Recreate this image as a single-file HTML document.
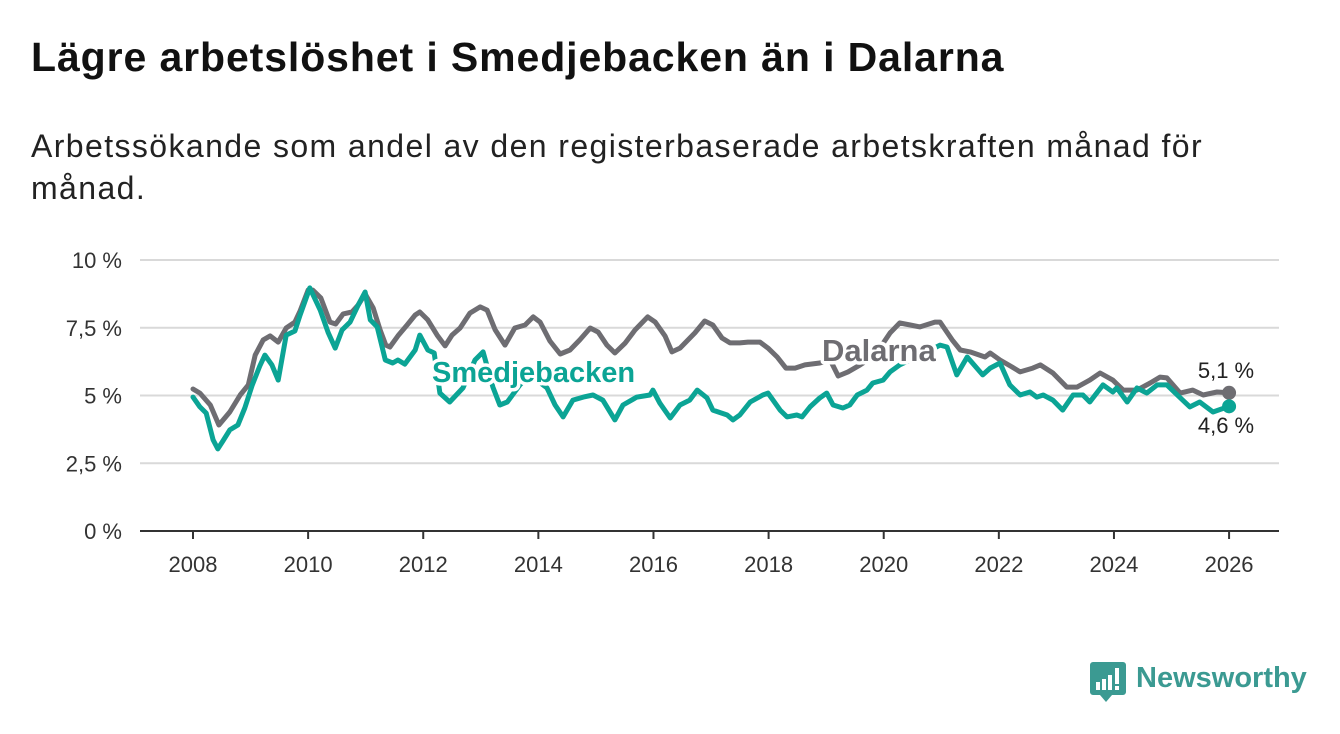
<!DOCTYPE html>
<html><head><meta charset="utf-8"><style>
body{margin:0;background:#fff;width:1340px;height:734px;overflow:hidden;font-family:"Liberation Sans","DejaVu Sans",sans-serif}
#title{position:absolute;left:31px;top:34px;font-size:41px;letter-spacing:0.9px;font-weight:bold;color:#111;margin:0;white-space:nowrap}
#sub{position:absolute;left:31px;top:125px;font-size:32px;letter-spacing:1.4px;color:#222;line-height:42px;width:1260px;white-space:nowrap}
svg{position:absolute;left:0;top:0}
</style></head><body>
<h1 id="title">Lägre arbetslöshet i Smedjebacken än i Dalarna</h1>
<div id="sub">Arbetssökande som andel av den registerbaserade arbetskraften månad för<br>månad.</div>
<svg id="chart" width="1340" height="734"></svg>
<script>
const yTicks=[0,2.5,5,7.5,10];
const yTickLabels=["0 %","2,5 %","5 %","7,5 %","10 %"];
const xTicks=[2008,2010,2012,2014,2016,2018,2020,2022,2024,2026];
const dalYears=[2008.00,2008.12,2008.30,2008.45,2008.64,2008.82,2008.96,2009.08,2009.22,2009.34,2009.48,2009.62,2009.77,2009.86,2010.00,2010.08,2010.22,2010.38,2010.48,2010.61,2010.76,2010.87,2010.99,2011.13,2011.25,2011.35,2011.42,2011.56,2011.72,2011.86,2011.94,2012.08,2012.24,2012.38,2012.50,2012.64,2012.81,2012.99,2013.11,2013.25,2013.42,2013.59,2013.77,2013.91,2014.03,2014.20,2014.38,2014.55,2014.72,2014.90,2015.04,2015.19,2015.33,2015.51,2015.68,2015.90,2016.03,2016.20,2016.32,2016.46,2016.72,2016.89,2017.03,2017.19,2017.33,2017.50,2017.64,2017.85,2017.99,2018.15,2018.30,2018.46,2018.63,2018.89,2019.07,2019.21,2019.38,2019.59,2019.85,2020.11,2020.28,2020.46,2020.63,2020.89,2020.98,2021.19,2021.33,2021.50,2021.76,2021.85,2022.02,2022.23,2022.37,2022.59,2022.72,2022.94,2023.18,2023.36,2023.58,2023.76,2023.98,2024.16,2024.40,2024.63,2024.80,2024.92,2025.15,2025.37,2025.55,2025.79,2026.00];
const dalValues=[5.24,5.09,4.65,3.91,4.39,5.02,5.39,6.49,7.05,7.20,6.97,7.49,7.71,8.12,8.89,8.89,8.60,7.71,7.64,8.01,8.08,8.34,8.75,8.23,7.42,6.86,6.79,7.20,7.60,7.97,8.08,7.79,7.23,6.83,7.23,7.49,8.04,8.27,8.15,7.42,6.86,7.49,7.60,7.90,7.71,7.01,6.53,6.68,7.05,7.49,7.34,6.86,6.57,6.94,7.42,7.90,7.71,7.20,6.61,6.75,7.31,7.75,7.60,7.12,6.94,6.94,6.97,6.97,6.75,6.42,6.01,6.01,6.13,6.20,6.31,5.72,5.87,6.13,6.49,7.31,7.68,7.60,7.53,7.71,7.71,7.05,6.68,6.61,6.42,6.57,6.31,6.05,5.87,6.01,6.13,5.83,5.31,5.31,5.57,5.83,5.57,5.20,5.20,5.46,5.68,5.65,5.09,5.20,5.02,5.13,5.1];
const smeYears=[2008.00,2008.12,2008.23,2008.35,2008.43,2008.52,2008.64,2008.78,2008.90,2009.03,2009.16,2009.25,2009.37,2009.48,2009.62,2009.77,2009.86,2010.03,2010.21,2010.35,2010.47,2010.59,2010.73,2010.87,2010.99,2011.08,2011.20,2011.34,2011.47,2011.56,2011.68,2011.86,2011.94,2012.08,2012.19,2012.29,2012.46,2012.69,2012.90,2013.04,2013.21,2013.33,2013.46,2013.68,2013.85,2014.15,2014.29,2014.43,2014.60,2014.78,2014.95,2015.12,2015.33,2015.47,2015.71,2015.94,2015.99,2016.11,2016.29,2016.46,2016.63,2016.76,2016.93,2017.03,2017.28,2017.38,2017.50,2017.68,2017.90,2017.99,2018.20,2018.32,2018.49,2018.58,2018.72,2018.89,2019.01,2019.12,2019.29,2019.41,2019.54,2019.71,2019.81,2019.99,2020.11,2020.28,2020.63,2020.98,2021.10,2021.27,2021.45,2021.72,2021.85,2022.02,2022.19,2022.37,2022.54,2022.66,2022.77,2022.94,2023.11,2023.29,2023.46,2023.58,2023.81,2023.98,2024.05,2024.23,2024.40,2024.57,2024.75,2024.92,2025.10,2025.32,2025.49,2025.72,2026.00];
const smeValues=[4.94,4.58,4.35,3.36,3.03,3.32,3.73,3.91,4.54,5.39,6.09,6.49,6.13,5.57,7.23,7.38,7.97,8.97,8.15,7.31,6.75,7.42,7.71,8.34,8.82,7.79,7.53,6.31,6.20,6.31,6.16,6.68,7.23,6.68,6.57,5.09,4.76,5.28,6.31,6.61,5.31,4.65,4.76,5.39,5.76,5.28,4.65,4.21,4.83,4.94,5.02,4.83,4.10,4.65,4.94,5.02,5.20,4.72,4.17,4.65,4.83,5.20,4.91,4.46,4.28,4.10,4.28,4.76,5.02,5.09,4.46,4.21,4.28,4.21,4.58,4.91,5.09,4.65,4.54,4.65,5.02,5.20,5.46,5.57,5.87,6.13,6.49,6.86,6.79,5.76,6.42,5.76,6.01,6.20,5.39,5.02,5.13,4.94,5.02,4.83,4.46,5.02,5.02,4.76,5.39,5.13,5.28,4.76,5.28,5.09,5.39,5.39,5.02,4.58,4.76,4.39,4.6];
const NS="http://www.w3.org/2000/svg";
const svg=document.getElementById('chart');
const X=y=>193+(y-2008)*57.56;
const Y=v=>531-v*27.1;
function el(t,a,p){const e=document.createElementNS(NS,t);for(const k in a)e.setAttribute(k,a[k]);(p||svg).appendChild(e);return e;}
yTicks.forEach((t,i)=>{
  const g=el('line',{x1:140,x2:1279,y1:Y(t),y2:Y(t),stroke:t===0?'#333':'#d9d9d9','stroke-width':2});
  
  
  const tx=el('text',{x:122,y:Y(t)+8,'text-anchor':'end','font-size':22,fill:'#333'});
  tx.textContent=yTickLabels[i];
  
  
});
xTicks.forEach(t=>{
  const l=el('line',{x1:X(t),x2:X(t),y1:531,y2:539,stroke:'#333','stroke-width':2});
  
  
  const tx=el('text',{x:X(t),y:572,'text-anchor':'middle','font-size':22,fill:'#333'});
  tx.textContent=t;
  
  
});
function line(xs,vs,c,name){
  const p=el('path',{d:xs.map((x,i)=>(i?'L':'M')+X(x).toFixed(1)+','+Y(vs[i]).toFixed(1)).join(''),fill:'none',stroke:c,'stroke-width':5,'stroke-linejoin':'round','stroke-linecap':'round'});
  
  
}
line(dalYears,dalValues,'#6e6d72','dalarna-line');
line(smeYears,smeValues,'#0ba495','smedjebacken-line');
function lbl(x,y,txt,c,size,w,anchor,name){
  const t=el('text',{x:x,y:y,'font-size':size,'font-weight':w,fill:c,stroke:'#fff','stroke-width':7,'paint-order':'stroke','stroke-linejoin':'round','text-anchor':anchor});
  t.textContent=txt;
  
  
}
lbl(822,361,'Dalarna','#6e6d72',31,'bold','start','dalarna-label');
lbl(432,382,'Smedjebacken','#0ba495',29,'bold','start','smedjebacken-label');
const d1=el('circle',{cx:X(dalYears[dalYears.length-1]),cy:Y(dalValues[dalValues.length-1]),r:7,fill:'#6e6d72'});


const d2=el('circle',{cx:X(smeYears[smeYears.length-1]),cy:Y(smeValues[smeValues.length-1]),r:7,fill:'#0ba495'});


lbl(1226,378,'5,1 %','#222',22,'normal','middle','dalarna-end-value');
lbl(1226,433,'4,6 %','#222',22,'normal','middle','smedjebacken-end-value');
</script>
<div style="position:absolute;left:1090px;top:662px;height:42px;">
<svg width="36" height="42" viewBox="0 0 36 42" style="position:absolute;left:0;top:0"><path d="M3 0H33a3 3 0 0 1 3 3V30a3 3 0 0 1-3 3H22l-6 7-6-7H3a3 3 0 0 1-3-3V3a3 3 0 0 1 3-3z" fill="#3b9a92"/><rect x="6" y="20" width="4" height="8" fill="#fff"/><rect x="12" y="17" width="4" height="11" fill="#fff"/><rect x="18" y="13" width="4" height="15" fill="#fff"/><rect x="25" y="6" width="4" height="16" fill="#fff"/><rect x="25" y="24" width="4" height="4" fill="#fff"/></svg>
<span style="position:absolute;left:46px;top:0px;font-size:29px;font-weight:bold;color:#3b9a92;white-space:nowrap">Newsworthy</span>
</div>
</body></html>
